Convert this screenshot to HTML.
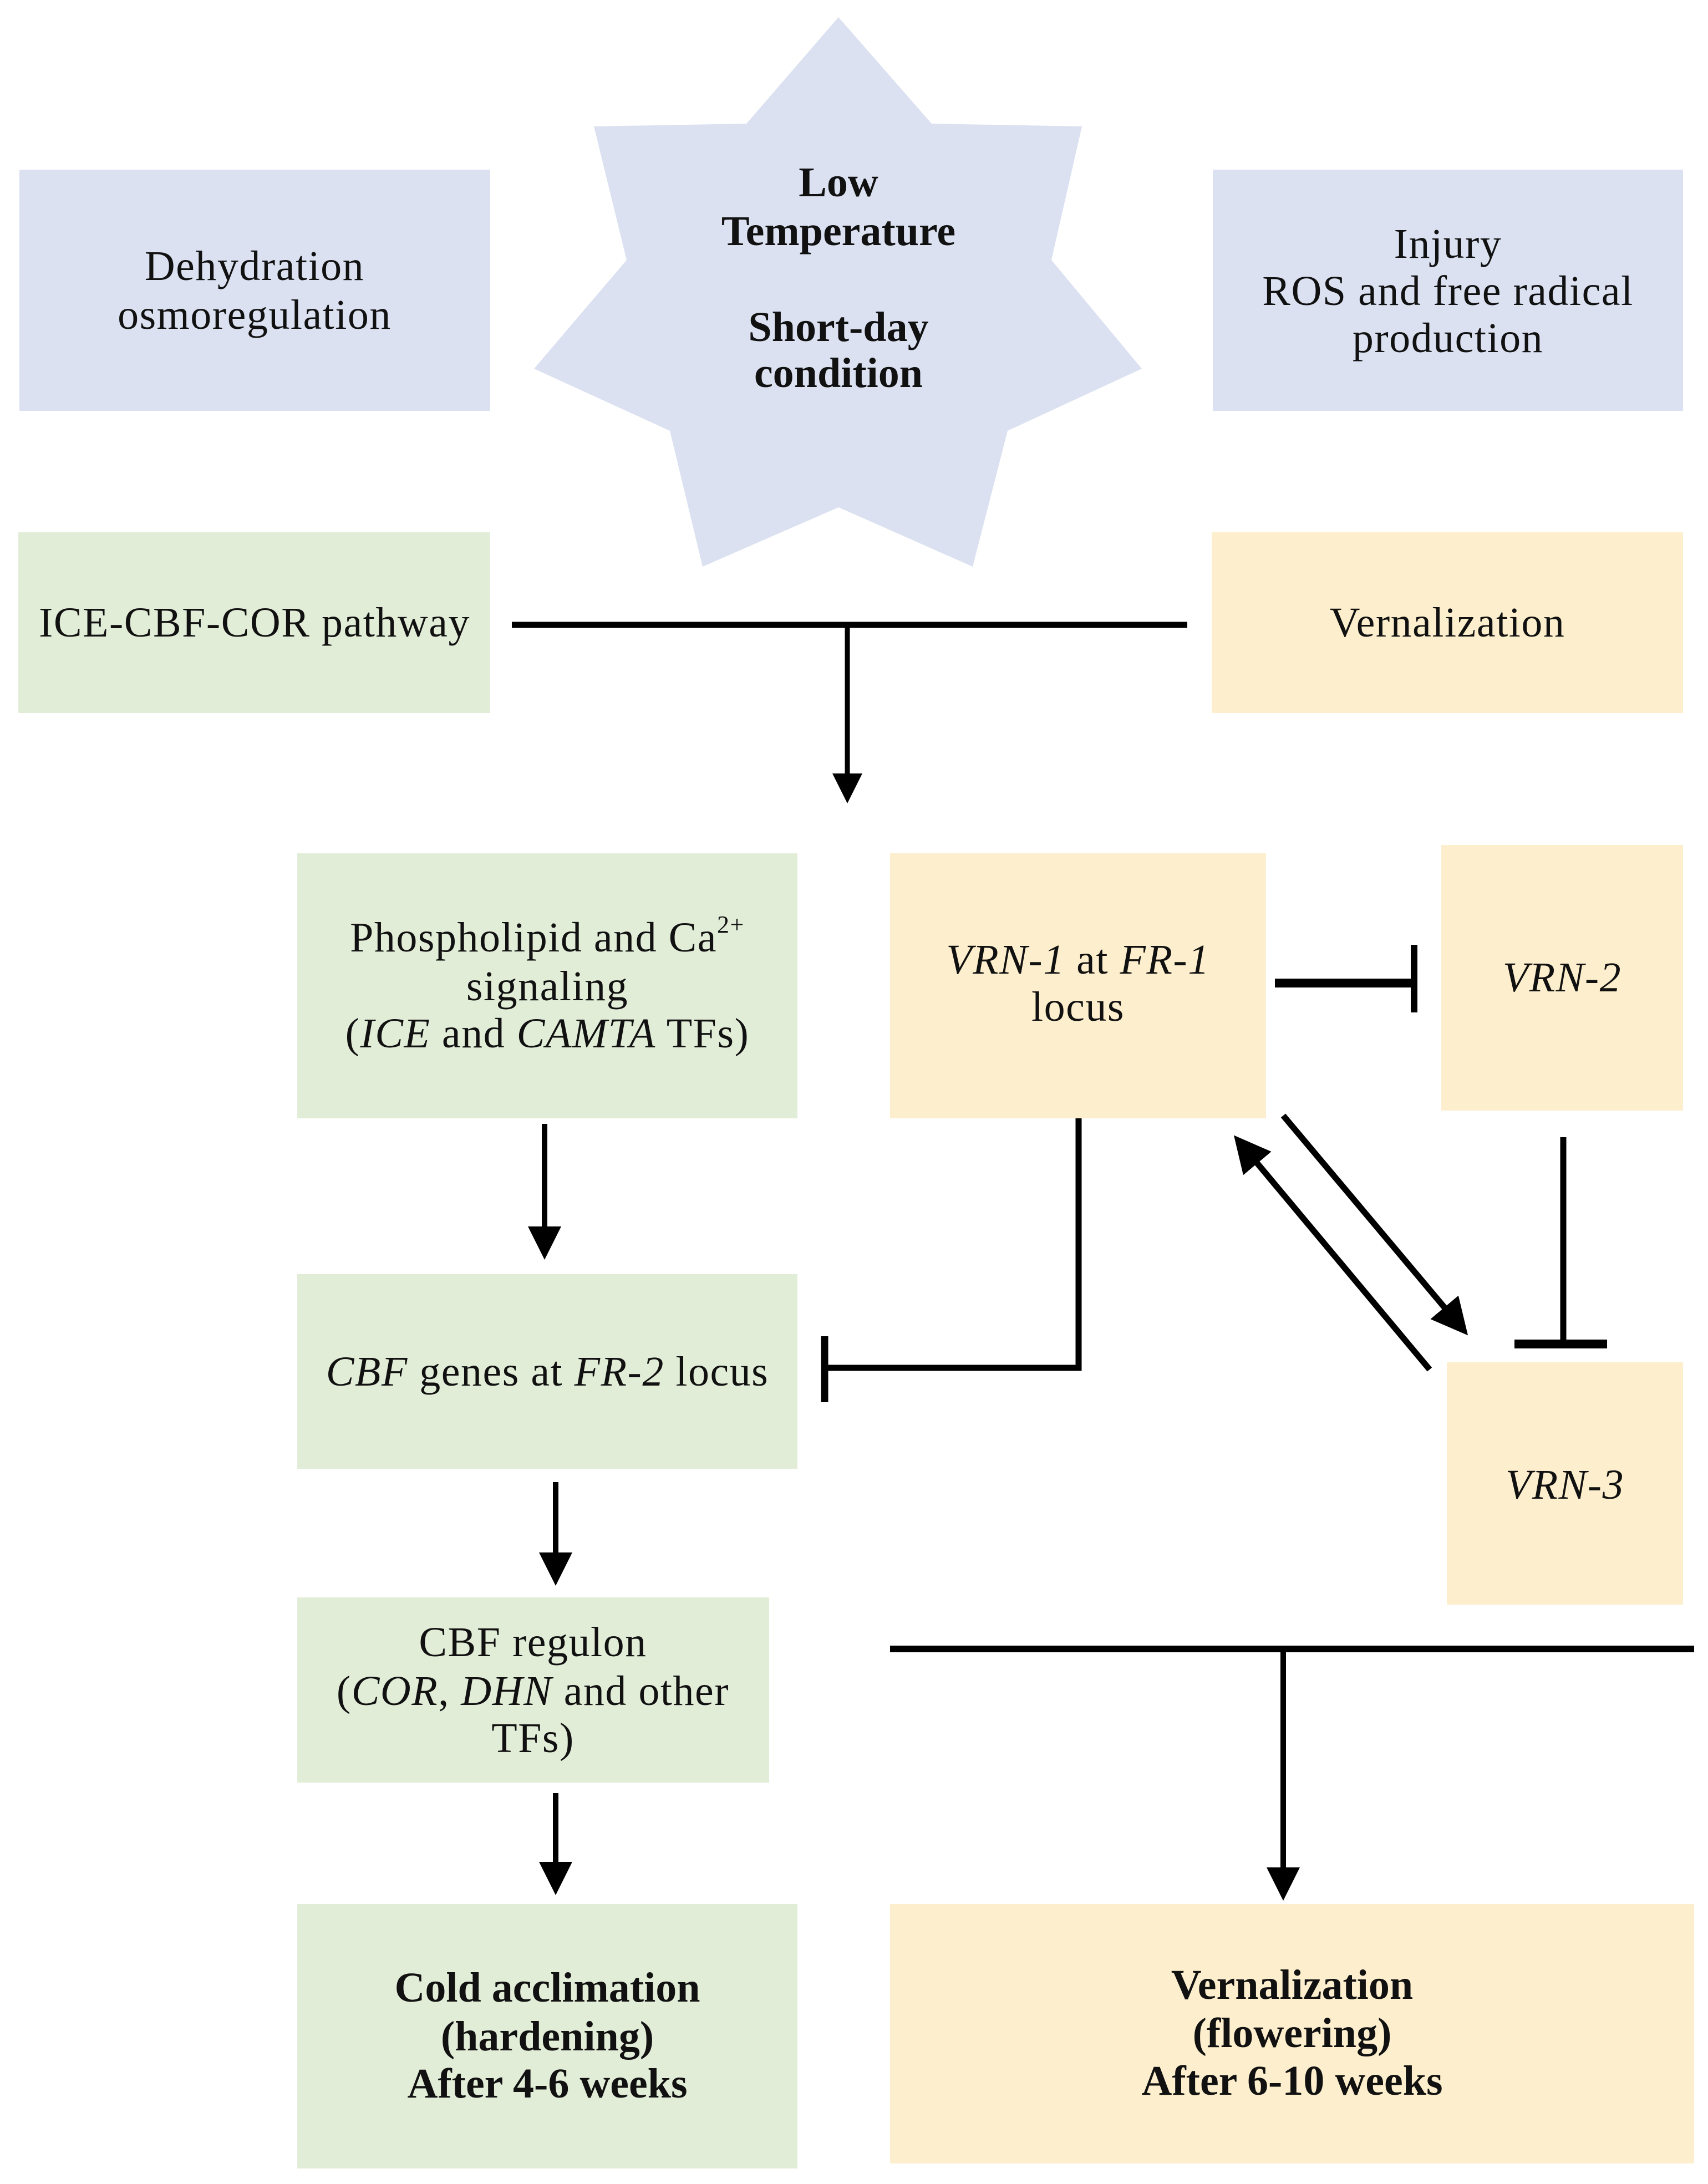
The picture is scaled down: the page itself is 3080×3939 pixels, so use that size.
<!DOCTYPE html>
<html><head><meta charset="utf-8"><style>
html,body{margin:0;padding:0;background:#fff;}
svg{display:block;}
text{font-family:"Liberation Serif",serif;font-size:76px;letter-spacing:1.5px;fill:#111;text-anchor:middle;dominant-baseline:central;}
.b{font-weight:bold;letter-spacing:0px;}
.i{font-style:italic;}
</style></head><body>
<svg width="3080" height="3939" viewBox="0 0 3080 3939" xmlns="http://www.w3.org/2000/svg">
<defs>
<marker id="ah" markerWidth="6" markerHeight="6" refX="5" refY="3" orient="auto" markerUnits="strokeWidth">
<path d="M0,0 L6,3 L0,6 z" fill="#000"/></marker>
</defs>
<rect x="35" y="306" width="849" height="435" fill="#dbe1f1"/>
<rect x="2187" y="306" width="848" height="435" fill="#dbe1f1"/>
<polygon points="1512,31 1680,223 1951,228 1896,469 2059,665 1817,777 1754,1022 1512,915 1267,1022 1208,777 963,665 1130,469 1071,228 1346,223" fill="#dbe1f1"/>
<text x="459" y="480">Dehydration</text>
<text x="459" y="568">osmoregulation</text>
<text class="b" x="1512" y="329">Low</text>
<text class="b" x="1512" y="417">Temperature</text>
<text class="b" x="1512" y="590">Short-day</text>
<text class="b" x="1512" y="673">condition</text>
<text x="2611" y="440">Injury</text>
<text x="2611" y="525">ROS and free radical</text>
<text x="2611" y="610">production</text>
<rect x="33" y="960" width="851" height="326" fill="#e2edd8"/>
<rect x="2185" y="960" width="850" height="326" fill="#fdefcd"/>
<text x="459" y="1123">ICE-CBF-COR pathway</text>
<text x="2610" y="1123">Vernalization</text>
<line x1="923" y1="1127" x2="2141" y2="1127" stroke="#000" stroke-width="11"/>
<line x1="1528" y1="1127" x2="1528" y2="1440" stroke="#000" stroke-width="9" marker-end="url(#ah)"/>
<rect x="536" y="1539" width="902" height="478" fill="#e2edd8"/>
<rect x="1605" y="1539" width="678" height="478" fill="#fdefcd"/>
<rect x="2599" y="1524" width="436" height="479" fill="#fdefcd"/>
<text x="987" y="1691">Phospholipid and Ca<tspan font-size="44" dy="-24">2+</tspan></text>
<text x="987" y="1779">signaling</text>
<text x="987" y="1864">(<tspan class="i">ICE</tspan> and <tspan class="i">CAMTA</tspan> TFs)</text>
<text x="1944" y="1731"><tspan class="i">VRN-1</tspan> at <tspan class="i">FR-1</tspan></text>
<text x="1944" y="1816">locus</text>
<text class="i" x="2817" y="1763">VRN-2</text>
<line x1="2299" y1="1773" x2="2550" y2="1773" stroke="#000" stroke-width="16"/>
<line x1="2550" y1="1704" x2="2550" y2="1826" stroke="#000" stroke-width="12"/>
<line x1="982" y1="2027" x2="982" y2="2262" stroke="#000" stroke-width="10" marker-end="url(#ah)"/>
<rect x="536" y="2298" width="902" height="351" fill="#e2edd8"/>
<text x="987" y="2474"><tspan class="i">CBF</tspan> genes at <tspan class="i">FR-2</tspan> locus</text>
<polyline points="1945,2017 1945,2467 1487,2467" fill="none" stroke="#000" stroke-width="11"/>
<line x1="1487" y1="2410" x2="1487" y2="2529" stroke="#000" stroke-width="13"/>
<line x1="2819" y1="2051" x2="2819" y2="2424" stroke="#000" stroke-width="11"/>
<line x1="2731" y1="2424" x2="2898" y2="2424" stroke="#000" stroke-width="16"/>
<line x1="2314" y1="2012" x2="2640" y2="2400" stroke="#000" stroke-width="11" marker-end="url(#ah)"/>
<line x1="2578" y1="2470" x2="2232" y2="2056" stroke="#000" stroke-width="11" marker-end="url(#ah)"/>
<rect x="2609" y="2457" width="426" height="437" fill="#fdefcd"/>
<text class="i" x="2822" y="2678">VRN-3</text>
<line x1="1002" y1="2673" x2="1002" y2="2850" stroke="#000" stroke-width="10" marker-end="url(#ah)"/>
<rect x="536" y="2881" width="851" height="334" fill="#e2edd8"/>
<text x="961" y="2962">CBF regulon</text>
<text x="961" y="3050">(<tspan class="i">COR</tspan>, <tspan class="i">DHN</tspan> and other</text>
<text x="961" y="3135">TFs)</text>
<line x1="1002" y1="3234" x2="1002" y2="3408" stroke="#000" stroke-width="10" marker-end="url(#ah)"/>
<line x1="1605" y1="2974" x2="3055" y2="2974" stroke="#000" stroke-width="12"/>
<line x1="2314" y1="2974" x2="2314" y2="3418" stroke="#000" stroke-width="10" marker-end="url(#ah)"/>
<rect x="536" y="3434" width="902" height="477" fill="#e2edd8"/>
<rect x="1605" y="3434" width="1450" height="468" fill="#fdefcd"/>
<text class="b" x="987" y="3585">Cold acclimation</text>
<text class="b" x="987" y="3673">(hardening)</text>
<text class="b" x="987" y="3758">After 4-6 weeks</text>
<text class="b" x="2330" y="3580">Vernalization</text>
<text class="b" x="2330" y="3667">(flowering)</text>
<text class="b" x="2330" y="3753">After 6-10 weeks</text>
</svg>
</body></html>
